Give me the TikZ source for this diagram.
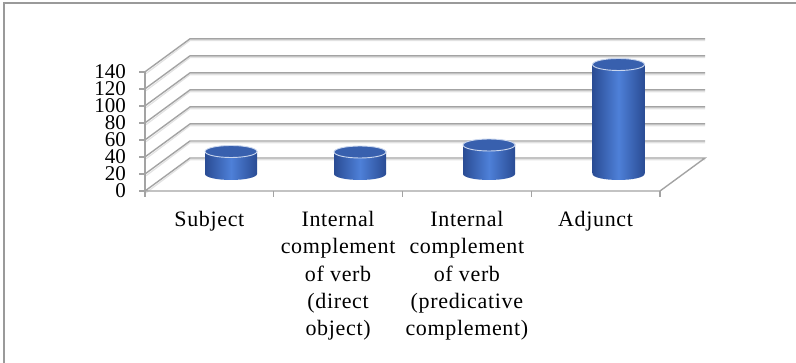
\documentclass[tikz,border=0pt]{standalone}
\usepackage{fontspec}
\setmainfont{Liberation Serif}
\definecolor{gridc}{HTML}{A3A3A3}
\definecolor{gridsh}{HTML}{E2E2E2}
\definecolor{framec}{HTML}{9A9A9A}
\definecolor{cyldark}{HTML}{2A4C94}
\definecolor{cyllight}{HTML}{4E80D8}
\definecolor{cyltop}{HTML}{3860AE}
\definecolor{cylrim}{HTML}{C9D6EE}
\tikzset{
  gridline/.style={draw=gridc, line width=1.4pt},
  gridshadow/.style={draw=gridsh, line width=1.2pt},
  ticklab/.style={anchor=east, inner sep=0pt, font=\fontsize{21}{21}\selectfont},
  catlab/.style={anchor=north, inner sep=0pt, align=center, font=\fontsize{22}{27.3}\selectfont\addfontfeature{LetterSpace=3}},
  cylbody/.style={left color=cyldark, right color=cyldark, middle color=cyllight},
  cyltopst/.style={fill=cyltop, draw=cylrim, line width=0.9pt}
}
\newcommand{\cylbar}[3]{% cx, top y, bottom y
  \shade[cylbody] (#1-26,#2) rectangle (#1+26,#3);
  \shade[cylbody] (#1,#3) ellipse[x radius=26, y radius=6];
  \filldraw[cyltopst] (#1,#2) ellipse[x radius=26, y radius=6];
}
\begin{document}
\begin{tikzpicture}[x=1pt, y=-1pt]
  \useasboundingbox (0,0) rectangle (796,363);
  % frame (top and left only)
  \draw[draw=framec, line width=2pt] (3.5,363) -- (3.5,3.5) -- (796,3.5);
  % grid
  \foreach \v in {20,40,...,140} {
    \pgfmathsetmacro{\yy}{191-\v*0.8514}
    \draw[gridshadow] (146,\yy+1.8) -- (190,\yy-31.2) -- (705,\yy-31.2);
    \draw[gridline] (145,\yy) -- (190,\yy-33) -- (705,\yy-33);
    \draw[gridline] (139,\yy) -- (145,\yy);
  }
  % floor
  \draw[gridshadow] (146,192.8) -- (190,159.8) -- (705,159.8);
  \draw[gridline] (145,191) -- (190,158) -- (705,158) -- (660,191) -- cycle;
  \draw[gridline] (139,191) -- (145,191);
  % value axis
  \draw[gridline] (145,71.8) -- (145,197);
  % category ticks
  \foreach \xx in {273.75,402.5,531.25,660} {
    \draw[gridline] (\xx,191) -- (\xx,197);
  }
  % tick labels
  \node[ticklab] (t0) at (126,191) {0};
  \node[ticklab] (t20) at (126,174) {20};
  \node[ticklab] (t40) at (126,156.9) {40};
  \node[ticklab] (t60) at (126,139.9) {60};
  \node[ticklab] (t80) at (126,122.9) {80};
  \node[ticklab] (t100) at (126,105.9) {100};
  \node[ticklab] (t120) at (126,88.8) {120};
  \node[ticklab] (t140) at (126,71.8) {140};
  % cylinders
  \cylbar{231}{151.5}{174}
  \cylbar{360}{152}{174}
  \cylbar{489}{145}{174}
  \cylbar{618.5}{64.5}{174}
  % category labels
  \node[catlab] (c1) at (209.4,211) {Subject};
  \node[catlab] (c2) at (338.1,211) {Internal\\complement\\of verb\\(direct\\object)};
  \node[catlab] (c3) at (466.9,211) {Internal\\complement\\of verb\\(predicative\\complement)};
  \node[catlab] (c4) at (595.6,211) {Adjunct};
\end{tikzpicture}
\end{document}
